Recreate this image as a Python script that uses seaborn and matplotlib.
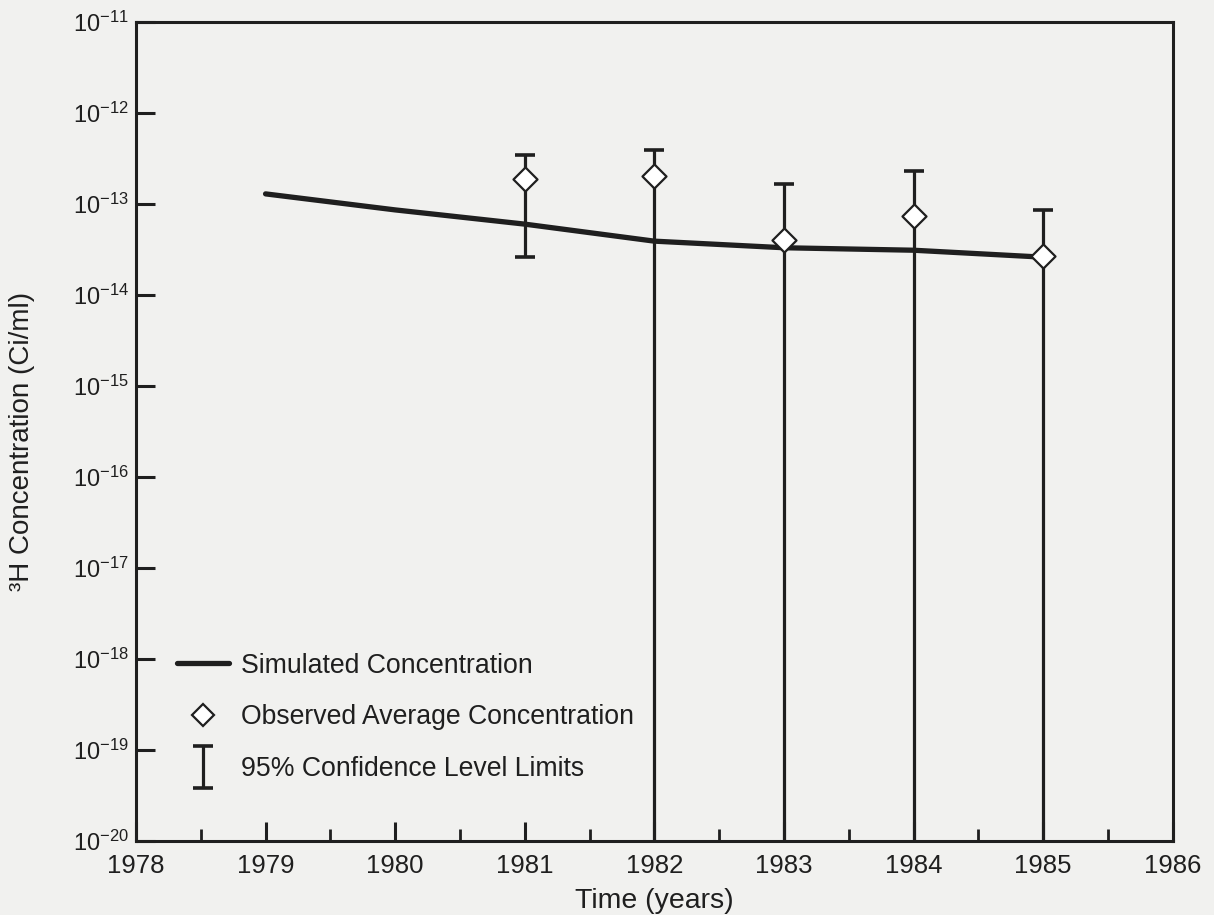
import matplotlib
matplotlib.use("Agg")
import numpy as np
import pandas as pd
import seaborn as sns
import matplotlib.pyplot as plt
from matplotlib.lines import Line2D
from matplotlib.ticker import FixedLocator, MultipleLocator, FuncFormatter, NullFormatter
from matplotlib.legend_handler import HandlerErrorbar
from matplotlib.container import ErrorbarContainer

# ---------------- data ----------------
sim_years = [1979, 1980, 1981, 1982, 1983, 1984, 1985]
sim_conc = [1.29e-13, 8.6e-14, 6.0e-14, 3.9e-14, 3.3e-14, 3.1e-14, 2.6e-14]

obs_years = [1981, 1982, 1983, 1984, 1985]
obs_conc = [1.88e-13, 2.03e-13, 4.0e-14, 7.4e-14, 2.7e-14]
obs_upper = [3.46e-13, 3.9e-13, 1.66e-13, 2.3e-13, 8.6e-14]
obs_lower = [2.6e-14, 1e-21, 1e-21, 1e-21, 1e-21]

x_ticks = [1978, 1979, 1980, 1981, 1982, 1983, 1984, 1985, 1986]
y_exponents = [-20, -19, -18, -17, -16, -15, -14, -13, -12, -11]

legend_labels = ["Simulated Concentration",
                 "Observed Average Concentration",
                 "95% Confidence Level Limits"]
x_label = "Time (years)"
y_label = "\u00b3H Concentration (Ci/ml)"

# ---------------- style ----------------
ink = "#1f1f1f"
bg = "#f1f1ef"
sns.set_theme(style="ticks")
plt.rcParams["font.family"] = ["Liberation Sans", "DejaVu Sans"]
plt.rcParams["mathtext.fontset"] = "custom"
plt.rcParams["mathtext.rm"] = "Liberation Sans"
plt.rcParams["mathtext.it"] = "Liberation Sans:italic"
plt.rcParams["mathtext.bf"] = "Liberation Sans:bold"

fig = plt.figure(figsize=(12.14, 9.15), dpi=100, facecolor=bg)
ax = fig.add_axes([0.112, 0.081, 0.854, 0.895])
ax.set_facecolor(bg)

sim_df = pd.DataFrame({"year": sim_years, "conc": sim_conc})
obs_df = pd.DataFrame({"year": obs_years, "conc": obs_conc,
                       "upper": obs_upper, "lower": obs_lower})

# simulated line
sns.lineplot(data=sim_df, x="year", y="conc", ax=ax, color=ink,
             linewidth=3.8, solid_capstyle="round", zorder=3)

# error bars
yerr = [obs_df["conc"] - obs_df["lower"], obs_df["upper"] - obs_df["conc"]]
eb = ax.errorbar(obs_df["year"], obs_df["conc"], yerr=yerr, fmt="none",
                 ecolor=ink, elinewidth=2.3, capsize=7.5, capthick=2.6,
                 zorder=2)

# observed diamonds
sns.scatterplot(data=obs_df, x="year", y="conc", ax=ax, marker="D",
                s=150, facecolor="white", edgecolor=ink, linewidth=1.6,
                zorder=4)

ax.set_yscale("log")
ax.set_ylim(1e-20, 1e-11)
ax.set_xlim(x_ticks[0], x_ticks[-1])

ax.yaxis.set_major_locator(FixedLocator([10.0 ** e for e in y_exponents]))
ax.yaxis.set_minor_locator(FixedLocator([]))
ax.yaxis.set_major_formatter(
    FuncFormatter(lambda v, p: r"$10^{%d}$" % int(round(np.log10(v)))))
ax.xaxis.set_major_locator(FixedLocator(x_ticks))
ax.xaxis.set_minor_locator(MultipleLocator(0.5))
ax.xaxis.set_minor_formatter(NullFormatter())

ax.tick_params(axis="both", which="major", direction="in", length=14,
               width=2.2, color=ink, labelcolor=ink)
ax.tick_params(axis="x", which="minor", direction="in", length=9,
               width=2.0, color=ink)
ax.tick_params(axis="x", which="major", labelsize=18.5, pad=9.5)
ax.tick_params(axis="y", which="major", labelsize=17, pad=5)
ax.tick_params(top=False, right=False, which="both")

for s in ax.spines.values():
    s.set_linewidth(2.2)
    s.set_color(ink)

ax.set_xlabel(x_label, fontsize=20.5, color=ink, labelpad=7)
ax.set_ylabel(y_label, fontsize=20, color=ink)
ax.yaxis.set_label_coords(-0.097, 0.488)

# legend
h_line = Line2D([], [], color=ink, linewidth=3.8)
h_diam = Line2D([], [], color=ink, marker="D", markersize=11,
                markerfacecolor="white", markeredgecolor=ink,
                markeredgewidth=1.6, linestyle="none")
leg = ax.legend([h_line, h_diam, eb], legend_labels,
                handler_map={ErrorbarContainer: HandlerErrorbar(yerr_size=0.78)},
                loc="upper left", bbox_to_anchor=(0.04, 0.230),
                frameon=False, fontsize=19.2, handlelength=1.95,
                handletextpad=0.42, labelspacing=0.97, borderpad=0,
                borderaxespad=0, numpoints=1, labelcolor=ink)

fig.savefig("out.png", dpi=100, facecolor=bg)
